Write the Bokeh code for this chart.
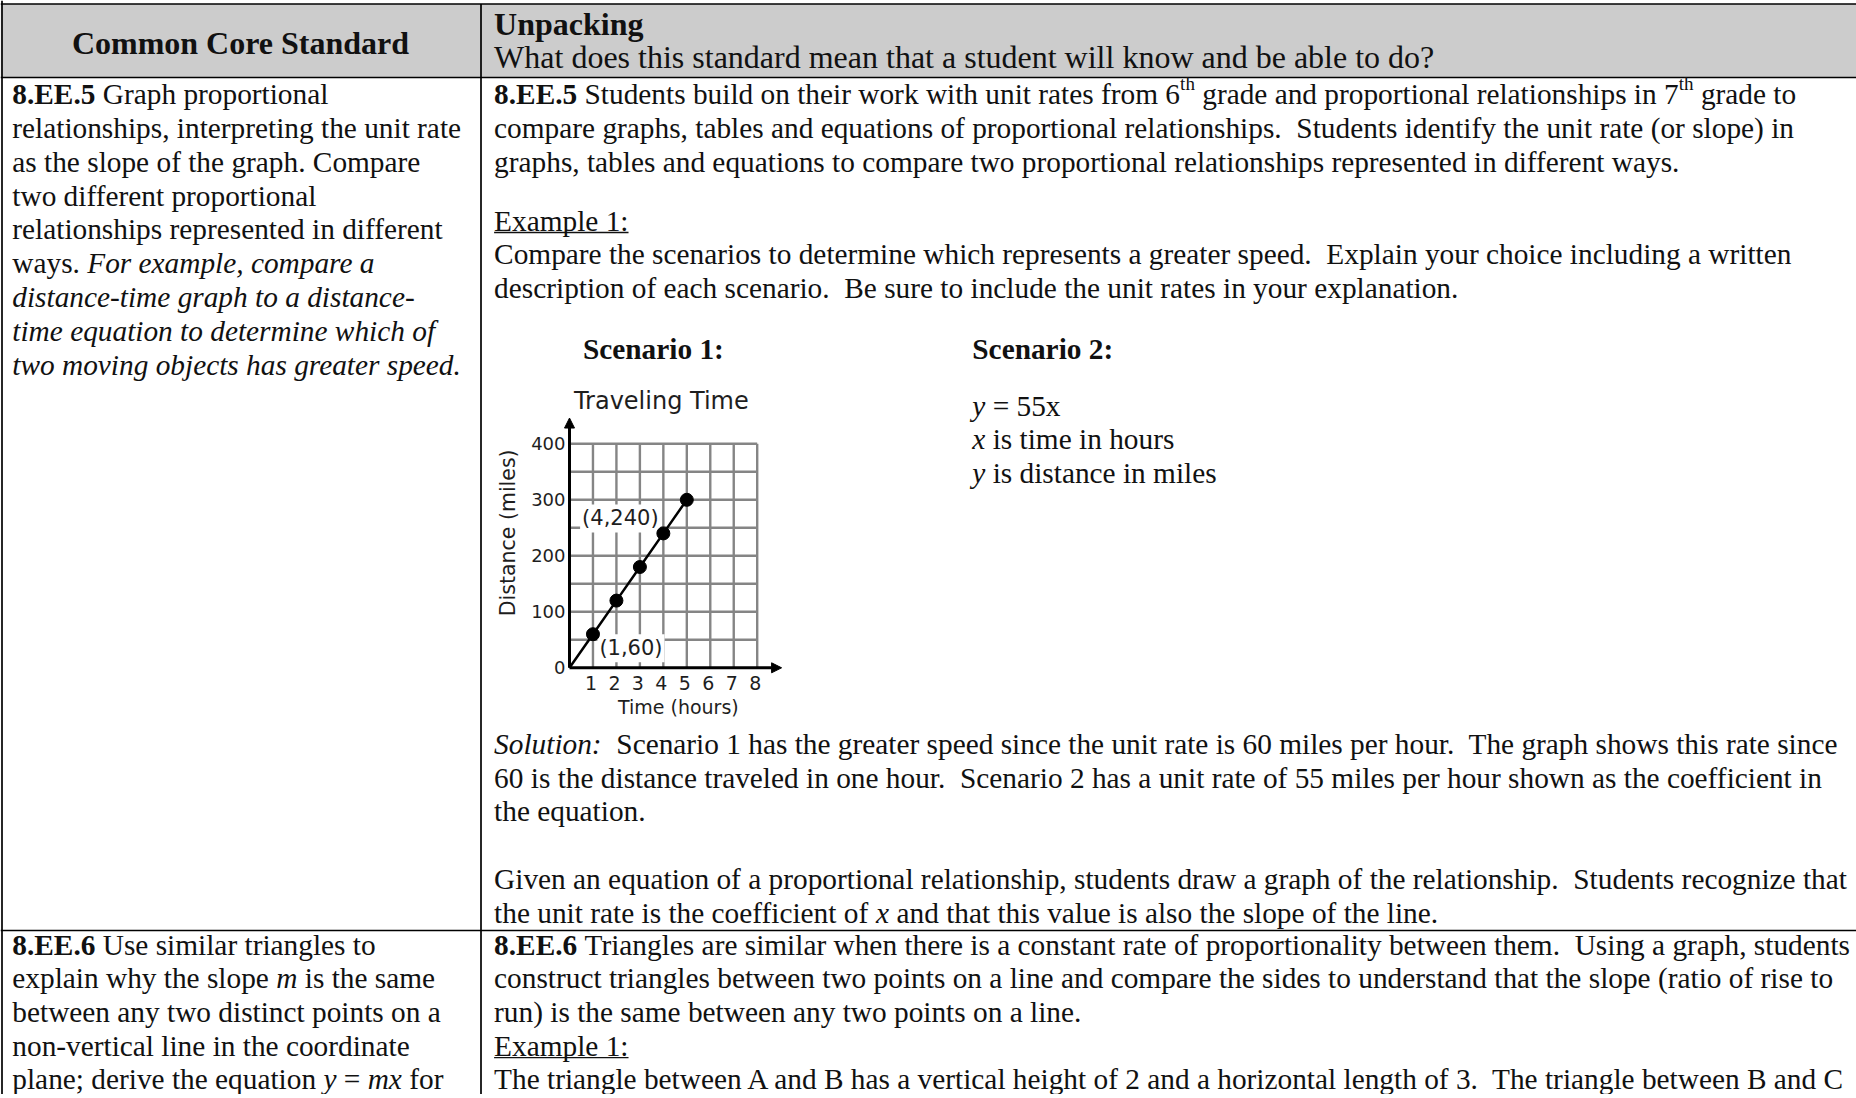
import math
from bokeh.plotting import figure
from bokeh.models import Range1d, Arrow, NormalHead, ColumnDataSource
from bokeh.core.properties import value
from bokeh.embed import file_html
from bokeh.resources import INLINE

# ---------------- chart data (Scenario 1 graph) ----------------
hours = [1, 2, 3, 4, 5]
miles = [60, 120, 180, 240, 300]
x_ticks = [1, 2, 3, 4, 5, 6, 7, 8]
y_ticks = [0, 100, 200, 300, 400]
y_grid = [50, 100, 150, 200, 250, 300, 350, 400]
chart_title = "Traveling Time"
x_label = "Time (hours)"
y_label = "Distance (miles)"
callout_x = [1, 4]
callout_y = [60, 240]
callout_text = ["(1,60)", "(4,240)"]

# ---------------- document text ----------------
S2 = "\u00a0 "  # double space after a full stop
header_left = "Common Core Standard"
header_right_1 = "Unpacking"
header_right_2 = "What does this standard mean that a student will know and be able to do?"

left_row1 = [
    [("8.EE.5", "b"), (" Graph proportional", "r")],
    [("relationships, interpreting the unit rate", "r")],
    [("as the slope of the graph. Compare", "r")],
    [("two different proportional", "r")],
    [("relationships represented in different", "r")],
    [("ways. ", "r"), ("For example, compare a", "i")],
    [("distance-time graph to a distance-", "i")],
    [("time equation to determine which of", "i")],
    [("two moving objects has greater speed.", "i")],
]
right_row1 = [
    (101.5, [("8.EE.5", "b"), (" Students build on their work with unit rates from 6", "r"), ("th", "s"),
             (" grade and proportional relationships in 7", "r"), ("th", "s"), (" grade to", "r")]),
    (135.3, [("compare graphs, tables and equations of proportional relationships." + S2 + "Students identify the unit rate (or slope) in", "r")]),
    (169.1, [("graphs, tables and equations to compare two proportional relationships represented in different ways.", "r")]),
    (228.0, [("Example 1:", "u")]),
    (261.5, [("Compare the scenarios to determine which represents a greater speed." + S2 + "Explain your choice including a written", "r")]),
    (295.3, [("description of each scenario." + S2 + "Be sure to include the unit rates in your explanation.", "r")]),
    (751.0, [("Solution:", "i"), (S2 + "Scenario 1 has the greater speed since the unit rate is 60 miles per hour." + S2 + "The graph shows this rate since", "r")]),
    (785.0, [("60 is the distance traveled in one hour." + S2 + "Scenario 2 has a unit rate of 55 miles per hour shown as the coefficient in", "r")]),
    (818.7, [("the equation.", "r")]),
    (886.4, [("Given an equation of a proportional relationship, students draw a graph of the relationship." + S2 + "Students recognize that", "r")]),
    (920.0, [("the unit rate is the coefficient of ", "r"), ("x", "i"), (" and that this value is also the slope of the line.", "r")]),
]
scenario_heads = ["Scenario 1:", "Scenario 2:"]
scenario2_lines = [
    [("y", "i"), (" = 55x", "r")],
    [("x", "i"), (" is time in hours", "r")],
    [("y", "i"), (" is distance in miles", "r")],
]
left_row2 = [
    [("8.EE.6", "b"), (" Use similar triangles to", "r")],
    [("explain why the slope ", "r"), ("m", "i"), (" is the same", "r")],
    [("between any two distinct points on a", "r")],
    [("non-vertical line in the coordinate", "r")],
    [("plane; derive the equation ", "r"), ("y", "i"), (" = ", "r"), ("mx", "i"), (" for", "r")],
]
right_row2 = [
    [("8.EE.6", "b"), (" Triangles are similar when there is a constant rate of proportionality between them." + S2 + "Using a graph, students", "r")],
    [("construct triangles between two points on a line and compare the sides to understand that the slope (ratio of rise to", "r")],
    [("run) is the same between any two points on a line.", "r")],
    [("Example 1:", "u")],
    [("The triangle between A and B has a vertical height of 2 and a horizontal length of 3." + S2 + "The triangle between B and C", "r")],
]

# ---------------- font metrics (Times / Liberation Serif, per 1000 em) ----------------
UP = "ABCDEFGHIJKLMNOPQRSTUVWXYZ"
LO = "abcdefghijklmnopqrstuvwxyz"
W_R = {' ': 250, '\u00a0': 250, '!': 333, '(': 333, ')': 333, ',': 250, '-': 333, '.': 250, ':': 278, ';': 278, '=': 564, '?': 444}
W_R.update(dict(zip(UP, [722, 667, 667, 722, 611, 556, 722, 722, 333, 389, 722, 611, 889, 722, 722, 556, 722, 667, 556, 611, 722, 722, 944, 722, 722, 611])))
W_R.update(dict(zip(LO, [444, 500, 444, 500, 444, 333, 500, 500, 278, 278, 500, 278, 778, 500, 500, 500, 500, 333, 389, 278, 500, 500, 722, 500, 500, 444])))
W_B = {' ': 250, '\u00a0': 250, '(': 333, ')': 333, ',': 250, '-': 333, '.': 250, ':': 333, ';': 333}
W_B.update(dict(zip(UP, [722, 667, 722, 722, 667, 611, 778, 778, 389, 500, 778, 667, 944, 722, 778, 611, 778, 722, 556, 667, 722, 722, 1000, 722, 722, 667])))
W_B.update(dict(zip(LO, [500, 556, 444, 556, 444, 333, 500, 556, 278, 333, 556, 278, 833, 556, 500, 556, 556, 444, 389, 333, 556, 500, 722, 500, 500, 444])))
W_I = {' ': 250, '\u00a0': 250, ',': 250, '-': 333, '.': 250, ':': 333, '=': 675}
W_I.update(dict(zip(UP, [611, 611, 667, 722, 611, 611, 722, 722, 333, 444, 667, 556, 833, 667, 722, 611, 722, 611, 500, 556, 722, 611, 833, 611, 556, 556])))
W_I.update(dict(zip(LO, [500, 500, 444, 500, 444, 278, 500, 500, 278, 278, 444, 278, 722, 500, 500, 500, 500, 389, 389, 278, 500, 444, 667, 444, 444, 389])))
for d in (W_R, W_B, W_I):
    for c in "0123456789":
        d[c] = 500
TABLES = {"r": W_R, "u": W_R, "s": W_R, "b": W_B, "i": W_I}

FS = 29.33     # body font size (px)
FS_H = 32.0    # header font size
FS_SUP = 19.0  # superscript size
TY = -8.0      # alphabetic-baseline correction of the text glyph


def tw(s, st, size):
    t = TABLES[st]
    return sum(t.get(c, 500) for c in s) / 1000.0 * size


# ---------------- page figure (data units = page pixels) ----------------
PW, PH = 1856, 1094
p = figure(width=PW, height=PH, x_range=Range1d(0, PW), y_range=Range1d(PH, 0),
           output_backend="svg", toolbar_location=None, min_border=0,
           x_axis_location=None, y_axis_location=None, title_location=None)
p.grid.visible = False
p.outline_line_color = None
p.background_fill_color = "white"
p.border_fill_color = "white"

SERIF = value("Liberation Serif")
SANS = value("DejaVu Sans")
TXT = "#111111"

# table structure
COL_X = 480.5
HDR_TOP, HDR_BOT = 3.5, 77.0
ROW2_Y = 930.0
p.quad(left=[0], right=[PW + 10], top=[HDR_TOP], bottom=[HDR_BOT], fill_color="#cccccc", line_color=None)
p.segment(x0=[0, 0, 0, 1.5, COL_X], y0=[HDR_TOP, HDR_BOT, ROW2_Y, 0, HDR_TOP],
          x1=[PW + 10, PW + 10, PW + 10, 1.5, COL_X], y1=[HDR_TOP, HDR_BOT, ROW2_Y, PH + 10, PH + 10],
          line_color="black", line_width=1.7)

# text collection
buckets = {k: dict(x=[], y=[], text=[]) for k in ("r", "b", "i", "s", "hr")}
underlines = dict(x0=[], x1=[], y=[])


def add(k, x, y, s):
    buckets[k]["x"].append(x)
    buckets[k]["y"].append(y + TY)
    buckets[k]["text"].append(s)


def seg_line(x, y, parts):
    cx = x
    for txt, st in parts:
        if st == "s":
            add("s", cx, y - 11, txt)
            cx += tw(txt, "r", FS_SUP)
            continue
        stripped = txt.lstrip(" ")
        lead = tw(txt[:len(txt) - len(stripped)], st, FS)
        k = "r" if st == "u" else st
        add(k, cx + lead, y, stripped)
        if st == "u":
            underlines["x0"].append(cx)
            underlines["x1"].append(cx + tw(txt, st, FS))
            underlines["y"].append(y + 4)
        cx += tw(txt, st, FS)


LX, RX = 11.8, 493.6
for i, parts in enumerate(left_row1):
    seg_line(LX, 101.5 + 33.85 * i, parts)
for yb, parts in right_row1:
    seg_line(RX, yb, parts)
for i, parts in enumerate(left_row2):
    seg_line(LX, 952.0 + 33.7 * i, parts)
for i, parts in enumerate(right_row2):
    seg_line(RX, 952.0 + 33.7 * i, parts)

SC1_X, SC2_X = 582.4, 971.8
add("b", SC1_X, 356.0, scenario_heads[0])
add("b", SC2_X, 356.0, scenario_heads[1])
for i, parts in enumerate(scenario2_lines):
    seg_line(SC2_X, 413.0 + 33.6 * i, parts)

add("hr", RX, 64.5, header_right_2)

p.segment(x0="x0", x1="x1", y0="y", y1="y", source=ColumnDataSource(underlines),
          line_color=TXT, line_width=1.4)

styles = {
    "r": dict(text_font_size=f"{FS}px", text_font_style="normal"),
    "b": dict(text_font_size=f"{FS}px", text_font_style="bold"),
    "i": dict(text_font_size=f"{FS}px", text_font_style="italic"),
    "s": dict(text_font_size=f"{FS_SUP}px", text_font_style="normal"),
    "hr": dict(text_font_size=f"{FS_H}px", text_font_style="normal"),
}
for k, st in styles.items():
    p.text(x="x", y="y", text="text", source=ColumnDataSource(buckets[k]), text_font=SERIF,
           text_color=TXT, text_baseline="alphabetic", text_align="left", **st)
p.text(x=[240.0], y=[50.5 + TY], text=[header_left], text_font=SERIF, text_color=TXT,
       text_font_size=f"{FS_H}px", text_font_style="bold", text_align="center", text_baseline="alphabetic")
p.text(x=[RX], y=[31.0 + TY], text=[header_right_1], text_font=SERIF, text_color=TXT,
       text_font_size=f"{FS_H}px", text_font_style="bold", text_align="left", text_baseline="alphabetic")

# ---------------- embedded chart, drawn through its own linear scales ----------------
x_max = max(x_ticks)
y_max = max(y_ticks)
CX0, CX1 = 569.0, 756.7   # page pixel of x=0 and x=x_max
CY0, CY1 = 667.3, 443.3   # page pixel of y=0 and y=y_max
sx = (CX1 - CX0) / x_max
sy = (CY0 - CY1) / y_max
p.extra_x_ranges = {"c": Range1d(0 - CX0 / sx, x_max + (PW - CX1) / sx)}
p.extra_y_ranges = {"c": Range1d(0 - (PH - CY0) / sy, y_max + CY1 / sy)}
C = dict(x_range_name="c", y_range_name="c")
GRID = "#858585"
CTXT = "#1e1e1e"

p.segment(x0=x_ticks, y0=[0] * len(x_ticks), x1=x_ticks, y1=[y_max] * len(x_ticks),
          line_color=GRID, line_width=2.4, **C)
p.segment(x0=[0] * len(y_grid), y0=y_grid, x1=[x_max] * len(y_grid), y1=y_grid,
          line_color=GRID, line_width=2.4, **C)

# axes with arrow heads
p.add_layout(Arrow(end=NormalHead(size=10, fill_color="black", line_color="black", line_width=1),
                   x_start=0, y_start=0, x_end=x_max * 1.13, y_end=0, line_width=3, line_color="black", **C))
p.add_layout(Arrow(end=NormalHead(size=10, fill_color="black", line_color="black", line_width=1),
                   x_start=0, y_start=0, x_end=0, y_end=y_max * 1.115, line_width=3, line_color="black", **C))

# callouts with white boxes
p.text(x=callout_x, y=callout_y, text=callout_text, x_offset=[38, -43], y_offset=[14, -15],
       text_font=SANS, text_font_size="21px", text_color=CTXT, text_align="center",
       text_baseline="middle", background_fill_color="white", padding=2, **C)

# data line and points
p.line(x=[0] + hours, y=[0] + miles, line_color="black", line_width=2.5, **C)
p.scatter(x=hours, y=miles, size=13, fill_color="black", line_color="black", **C)

# tick labels
p.text(x=x_ticks, y=[0] * len(x_ticks), text=[str(t) for t in x_ticks], x_offset=-2, y_offset=15,
       text_font=SANS, text_font_size="19px", text_color=CTXT, text_align="center",
       text_baseline="middle", **C)
p.text(x=[0] * len(y_ticks), y=y_ticks, text=[str(t) for t in y_ticks], x_offset=-4, y_offset=0,
       text_font=SANS, text_font_size="18px", text_color=CTXT, text_align="right",
       text_baseline="middle", **C)

# titles
p.text(x=[x_max / 2], y=[y_max], text=[chart_title], x_offset=-2, y_offset=-43,
       text_font=SANS, text_font_size="24px", text_color=CTXT, text_align="center",
       text_baseline="middle", **C)
p.text(x=[x_max / 2], y=[0], text=[x_label], x_offset=15, y_offset=39,
       text_font=SANS, text_font_size="19px", text_color=CTXT, text_align="center",
       text_baseline="middle", **C)
p.text(x=[0], y=[y_max / 2], text=[y_label], x_offset=-62, y_offset=-23, angle=math.pi / 2,
       text_font=SANS, text_font_size="20.5px", text_color=CTXT, text_align="center",
       text_baseline="middle", **C)

open("out.html", "w").write(file_html(p, INLINE))
